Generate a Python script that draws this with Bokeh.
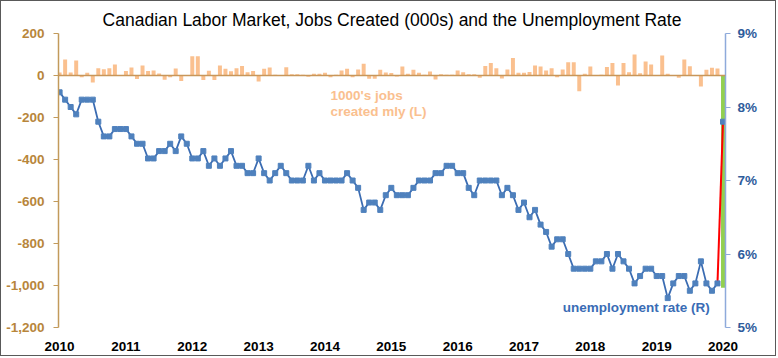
import pandas as pd
from bokeh.plotting import figure
from bokeh.models import Range1d, LinearAxis, FixedTicker, NumeralTickFormatter, Label, Span
from bokeh.embed import file_html
from bokeh.resources import INLINE

# ---------------- data ----------------
months = [p.strftime("%Y-%m") for p in pd.period_range("2010-03", "2020-03", freq="M")]

jobs_created = [
    14, 76, 14, 71, -8, 13, -33, 35, 30, 35,
    52, 2, 22, 38, -17, 48, 21, 24, 10, -20,
    -8, 33, -26, 2, 92, 92, -21, 23, -21, 48,
    32, 20, 35, 45, 16, 21, -28, 32, 38, 4,
    2, 39, 6, 6, 3, -6, 8, 8, 13, -8,
    3, 24, 32, -8, 29, 56, -16, -16, 27, 14,
    12, -5, 43, 8, 27, 13, 3, 19, -19, 6,
    3, 3, 24, 16, 6, 6, -11, 45, 59, 35,
    -14, 29, 83, 13, 13, 17, 48, 43, 24, 35,
    -8, 29, 63, 63, -75, 8, 43, 2, 3, 40,
    60, -48, 59, 16, 100, 11, 67, 52, 2, 95,
    8, 2, -11, 76, 44, 2, -52, 27, 37, 33,
    -1011,
]

unemployment_rate = [
    8.2, 8.1, 8.0, 7.9, 8.1, 8.1, 8.1, 7.8, 7.6, 7.6,
    7.7, 7.7, 7.7, 7.6, 7.5, 7.5, 7.3, 7.3, 7.4, 7.4,
    7.5, 7.4, 7.6, 7.5, 7.3, 7.3, 7.4, 7.2, 7.3, 7.2,
    7.3, 7.4, 7.2, 7.2, 7.1, 7.1, 7.3, 7.1, 7.0, 7.1,
    7.2, 7.1, 7.0, 7.0, 7.0, 7.2, 7.0, 7.1, 7.0, 7.0,
    7.0, 7.0, 7.1, 7.0, 6.9, 6.6, 6.7, 6.7, 6.6, 6.8,
    6.9, 6.8, 6.8, 6.8, 6.9, 7.0, 7.0, 7.0, 7.1, 7.1,
    7.2, 7.2, 7.1, 7.1, 6.9, 6.8, 7.0, 7.0, 7.0, 7.0,
    6.8, 6.9, 6.8, 6.6, 6.7, 6.5, 6.6, 6.4, 6.3, 6.1,
    6.2, 6.2, 6.0, 5.8, 5.8, 5.8, 5.8, 5.9, 5.9, 6.0,
    5.8, 6.0, 5.9, 5.8, 5.6, 5.7, 5.8, 5.8, 5.7, 5.7,
    5.4, 5.6, 5.7, 5.7, 5.5, 5.6, 5.9, 5.6, 5.5, 5.6,
    7.8,
]

year_labels = ["2010", "2011", "2012", "2013", "2014", "2015",
               "2016", "2017", "2018", "2019", "2020"]
left_ticks = [-1200, -1000, -800, -600, -400, -200, 0, 200]
right_ticks = [5, 6, 7, 8, 9]

# ---------------- styling ----------------
ORANGE = "#FAC08F"
GREEN = "#92D050"
BLUE_LINE = "#3B6CB2"
BLUE_MARK = "#4F81BD"
TAN_TEXT = "#B8863B"
TAN_LINE = "#C29A5B"
RIGHT_TEXT = "#2E5C9C"
RIGHT_LINE = "#8EAADB"
FONT = "Liberation Sans"

idx = list(range(len(months)))
last = len(months) - 1
bar_colors = [ORANGE] * last + [GREEN]

p = figure(width=776, height=356, output_backend="svg", toolbar_location=None,
           x_range=Range1d(-0.2, 120.45), y_range=Range1d(-1200, 200),
           min_border_left=57, min_border_right=52, min_border_top=32, min_border_bottom=30)
p.extra_y_ranges = {"rate": Range1d(5, 9)}
p.styles = {"border": "1px solid #595959"}

p.outline_line_color = None
p.xgrid.visible = False
p.ygrid.visible = False
p.background_fill_color = "white"
p.border_fill_color = "white"

p.title.text = "Canadian Labor Market, Jobs Created (000s) and the Unemployment Rate"
p.title.align = "center"
p.title.text_font = FONT
p.title.text_font_size = "17.5px"
p.title.text_font_style = "normal"
p.title.text_color = "#000000"
p.title.standoff = 8

# left axis
ya = p.yaxis[0]
ya.ticker = FixedTicker(ticks=left_ticks)
ya.formatter = NumeralTickFormatter(format="0,0")
ya.axis_line_color = TAN_LINE
ya.axis_line_width = 1.5
ya.major_tick_line_color = TAN_LINE
ya.major_tick_in = 0
ya.major_tick_out = 5
ya.minor_tick_line_color = None
ya.major_label_text_color = TAN_TEXT
ya.major_label_text_font = FONT
ya.major_label_text_font_style = "bold"
ya.major_label_text_font_size = "13.5px"
ya.major_label_standoff = 9

# right axis
ra = LinearAxis(y_range_name="rate", ticker=FixedTicker(ticks=right_ticks))
ra.major_label_overrides = {t: f"{t}%" for t in right_ticks}
ra.axis_line_color = RIGHT_LINE
ra.axis_line_width = 1.5
ra.major_tick_line_color = RIGHT_LINE
ra.major_tick_in = 0
ra.major_tick_out = 5
ra.minor_tick_line_color = None
ra.major_label_text_color = RIGHT_TEXT
ra.major_label_text_font = FONT
ra.major_label_text_font_style = "bold"
ra.major_label_text_font_size = "13.5px"
ra.major_label_standoff = 7
p.add_layout(ra, "right")

# x axis
xa = p.xaxis[0]
xa.ticker = FixedTicker(ticks=[12 * i for i in range(len(year_labels))])
xa.major_label_overrides = {12 * i: lab for i, lab in enumerate(year_labels)}
xa.axis_line_color = None
xa.major_tick_line_color = None
xa.minor_tick_line_color = None
xa.major_label_text_color = "#000000"
xa.major_label_text_font = FONT
xa.major_label_text_font_style = "bold"
xa.major_label_text_font_size = "13.5px"
xa.major_label_standoff = 8

# bars
p.vbar(x=idx, top=jobs_created, bottom=0, width=0.72,
       fill_color=bar_colors, line_color=None)

# zero line
p.add_layout(Span(location=0, dimension="width", line_color="#C8965A", line_width=1.5))

# unemployment line
p.line(idx[:last], unemployment_rate[:last], y_range_name="rate",
       line_color=BLUE_LINE, line_width=1.8)
p.line(idx[last - 1:], unemployment_rate[last - 1:], y_range_name="rate",
       line_color="#FF0000", line_width=2)
p.scatter(idx, unemployment_rate, y_range_name="rate", marker="square", size=5,
          fill_color=BLUE_MARK, line_color=BLUE_MARK)

# annotations
for txt, yy in [("1000's jobs", -95), ("created mly (L)", -171)]:
    p.add_layout(Label(x=49, y=yy, text=txt, text_font=FONT,
                       text_font_size="13.5px", text_font_style="bold",
                       text_color=ORANGE, text_align="left", text_baseline="middle"))
p.add_layout(Label(x=91, y=5.27, y_range_name="rate", text="unemployment rate (R)",
                   text_font=FONT, text_font_size="13.5px", text_font_style="bold",
                   text_color="#3A6CB5", text_align="left", text_baseline="middle"))

open("out.html", "w").write(file_html(p, INLINE))
